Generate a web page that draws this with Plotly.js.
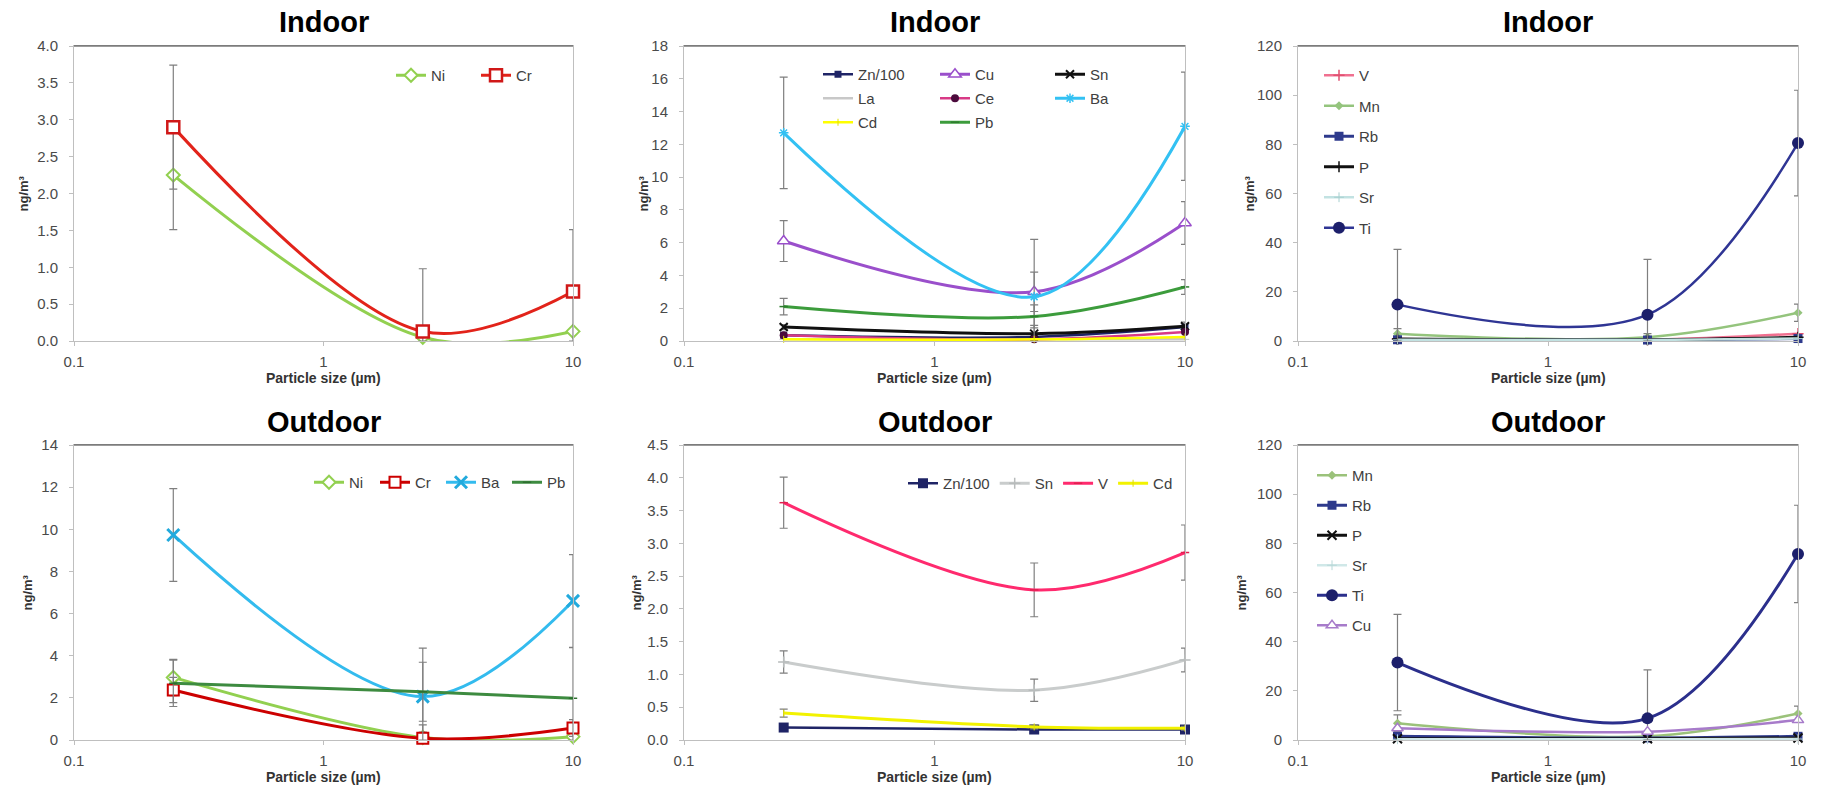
<!DOCTYPE html>
<html>
<head>
<meta charset="utf-8">
<script src="https://cdn.plot.ly/plotly-3.0.1.min.js"></script>
<style>
html,body{margin:0;padding:0;background:#ffffff;}
#chart{width:1829px;height:788px;}
</style>
</head>
<body>
<div id="chart"></div>
<script>
// ---------------- DATA ----------------
const sizes = [0.25, 2.5, 10];              // particle size (µm)
const xTickVals = [0.1, 1, 10];
const xTickText = ['0.1', '1', '10'];
const panelTitles = ['Indoor', 'Indoor', 'Indoor', 'Outdoor', 'Outdoor', 'Outdoor'];
const xAxisTitle = 'Particle size (µm)';
const yAxisTitle = 'ng/m³';
const yRanges = [[0, 4], [0, 18], [0, 120], [0, 14], [0, 4.5], [0, 120]];
const yDticks = [0.5, 2, 20, 2, 0.5, 20];
const yFormats = ['.1f', 'd', 'd', 'd', '.1f', 'd'];

// Panel 1 – Indoor
const in1Ni = [2.25, 0.05, 0.13];
const in1NiErr = [0.74, 0, 0];
const in1Cr = [2.90, 0.13, 0.67];
const in1CrErr = [0.84, 0.85, 0.84];

// Panel 2 – Indoor
const in2Zn100 = [0.35, 0.25, 0.85];
const in2Cu = [6.1, 3.0, 7.2];
const in2CuErr = [1.25, 1.2, 1.3];
const in2Sn = [0.85, 0.45, 0.9];
const in2SnErr = [0.15, 0.5, 0.25];
const in2La = [0.1, 0.1, 0.1];
const in2Ce = [0.35, 0.1, 0.55];
const in2Ba = [12.7, 2.7, 13.1];
const in2BaErr = [3.4, 3.5, 3.3];
const in2Cd = [0.1, 0.1, 0.25];
const in2Pb = [2.1, 1.5, 3.3];
const in2PbErr = [0.5, 0.7, 0.45];

// Panel 3 – Indoor
const in3V = [0.8, 0.5, 3.0];
const in3Mn = [3.0, 1.5, 11.5];
const in3MnErr = [2.0, 1.5, 3.5];
const in3Rb = [0.5, 0.4, 1.0];
const in3P = [0.8, 0.5, 1.5];
const in3Sr = [0.5, 0.4, 1.0];
const in3Ti = [14.8, 10.7, 80.5];
const in3TiErr = [22.5, 22.5, 21.5];

// Panel 4 – Outdoor
const out1Ni = [2.97, 0.12, 0.16];
const out1NiErr = [0.86, 0.6, 0.3];
const out1Cr = [2.37, 0.08, 0.57];
const out1CrErr = [0.6, 0.3, 0.4];
const out1Ba = [9.73, 2.06, 6.6];
const out1BaErr = [2.2, 2.3, 2.2];
const out1Pb = [2.69, 2.29, 1.98];
const out1PbErr = [1.1, 1.4, 2.4];

// Panel 5 – Outdoor
const out2Zn100 = [0.19, 0.16, 0.16];
const out2Sn = [1.19, 0.76, 1.22];
const out2SnErr = [0.17, 0.17, 0.18];
const out2V = [3.62, 2.29, 2.86];
const out2VErr = [0.39, 0.41, 0.42];
const out2Cd = [0.41, 0.2, 0.18];
const out2CdErr = [0.06, 0.03, 0.03];

// Panel 6 – Outdoor
const out3Mn = [6.8, 1.5, 10.8];
const out3MnErr = [3.4, 1.0, 3.0];
const out3Rb = [1.5, 0.8, 1.5];
const out3P = [0.5, 0.5, 0.8];
const out3Sr = [0.3, 0.3, 0.4];
const out3Ti = [31.5, 8.8, 75.7];
const out3TiErr = [19.6, 19.7, 19.8];
const out3Cu = [4.8, 3.4, 8.1];

// ---------------- LAYOUT HELPERS ----------------
const W = 1829, H = 788;
const FONT = 'Liberation Sans, Arial, Helvetica, sans-serif';
const colsPx = [[74, 573], [684, 1185], [1298, 1798]];
const rowsPx = [[46, 341], [445, 740]];
const fx = v => v / W;
const fy = v => 1 - v / H;

// series specs (styles only; values come from arrays above)
const series = [
  {p:0, name:'Ni', y:in1Ni, e:in1NiErr, lg:'legend', c:'#92D050', w:3, m:{symbol:'diamond', size:10, color:'#ffffff', line:{color:'#92D050', width:2}}},
  {p:0, name:'Cr', y:in1Cr, e:in1CrErr, lg:'legend', c:'#E2231A', w:3, m:{symbol:'square', size:12, color:'#ffffff', line:{color:'#D01818', width:2.5}}},

  {p:1, name:'Zn/100', y:in2Zn100, lg:'legend2', c:'#1F2466', w:2.5, m:{symbol:'square', size:7, color:'#1F2466'}},
  {p:1, name:'Cu', y:in2Cu, e:in2CuErr, lg:'legend3', c:'#9A4FCB', w:3, m:{symbol:'triangle-up', size:11, color:'#ffffff', line:{color:'#9A4FCB', width:1.5}}},
  {p:1, name:'Sn', y:in2Sn, e:in2SnErr, lg:'legend4', c:'#111111', w:3, m:{symbol:'x-thin', size:8, color:'#111111', line:{color:'#111111', width:2}}},
  {p:1, name:'La', y:in2La, lg:'legend2', c:'#C8C8C8', w:2.5, m:{symbol:'line-ew', size:6, color:'#C8C8C8', line:{color:'#C8C8C8', width:1}}},
  {p:1, name:'Ce', y:in2Ce, lg:'legend3', c:'#D83A86', w:2.5, m:{symbol:'circle', size:8, color:'#4B0A3C'}},
  {p:1, name:'Ba', y:in2Ba, e:in2BaErr, lg:'legend4', c:'#33C1F3', w:3, m:{symbol:'asterisk', size:8, color:'#33C1F3', line:{color:'#33C1F3', width:1.5}}},
  {p:1, name:'Cd', y:in2Cd, lg:'legend2', c:'#FFFF00', w:2.5, m:{symbol:'line-ns', size:5, color:'#E0E000', line:{color:'#E0E000', width:1}}},
  {p:1, name:'Pb', y:in2Pb, e:in2PbErr, lg:'legend3', c:'#3C9C3C', w:3, m:{symbol:'line-ew', size:6, color:'#2E7D2E', line:{color:'#2E7D2E', width:1.5}}},

  {p:2, name:'V', y:in3V, lg:'legend5', c:'#F07090', w:2.5, m:{symbol:'cross-thin', size:8, color:'#E05070', line:{color:'#E05070', width:1.5}}},
  {p:2, name:'Mn', y:in3Mn, e:in3MnErr, lg:'legend5', c:'#94C47D', w:2.5, m:{symbol:'diamond', size:7, color:'#94C47D'}},
  {p:2, name:'Rb', y:in3Rb, lg:'legend5', c:'#2E3A8C', w:3, m:{symbol:'square', size:9, color:'#2E3A8C'}},
  {p:2, name:'P', y:in3P, lg:'legend5', c:'#111111', w:3, m:{symbol:'cross-thin', size:8, color:'#111111', line:{color:'#111111', width:1.5}}},
  {p:2, name:'Sr', y:in3Sr, lg:'legend5', c:'#C2E2E2', w:2.5, m:{symbol:'cross-thin', size:7, color:'#A8D0D0', line:{color:'#A8D0D0', width:1}}},
  {p:2, name:'Ti', y:in3Ti, e:in3TiErr, lg:'legend5', c:'#2F3594', w:2.5, m:{symbol:'circle', size:12, color:'#1C1F6B'}},

  {p:3, name:'Ni', y:out1Ni, e:out1NiErr, lg:'legend6', c:'#92D050', w:3, m:{symbol:'diamond', size:10, color:'#ffffff', line:{color:'#92D050', width:2}}},
  {p:3, name:'Cr', y:out1Cr, e:out1CrErr, lg:'legend6', c:'#CC0000', w:3, m:{symbol:'square', size:11, color:'#ffffff', line:{color:'#CC0000', width:2}}},
  {p:3, name:'Ba', y:out1Ba, e:out1BaErr, lg:'legend6', c:'#33BBEE', w:3, m:{symbol:'x-thin', size:12, color:'#22AADD', line:{color:'#22AADD', width:3}}},
  {p:3, name:'Pb', y:out1Pb, e:out1PbErr, lg:'legend6', c:'#3D8B40', w:3, m:{symbol:'line-ew', size:6, color:'#2E6E30', line:{color:'#2E6E30', width:1.5}}},

  {p:4, name:'Zn/100', y:out2Zn100, lg:'legend7', c:'#1F2466', w:2.5, m:{symbol:'square', size:10, color:'#1F2466'}},
  {p:4, name:'Sn', y:out2Sn, e:out2SnErr, lg:'legend7', c:'#C9CCCC', w:3, m:{symbol:'cross-thin', size:8, color:'#B8BCBC', line:{color:'#B8BCBC', width:1.5}}},
  {p:4, name:'V', y:out2V, e:out2VErr, lg:'legend7', c:'#FF2A6E', w:3, m:{symbol:'line-ew', size:6, color:'#E0204F', line:{color:'#E0204F', width:1.5}}},
  {p:4, name:'Cd', y:out2Cd, e:out2CdErr, lg:'legend7', c:'#F2F200', w:3, m:{symbol:'line-ns', size:5, color:'#E0E000', line:{color:'#E0E000', width:1}}},

  {p:5, name:'Mn', y:out3Mn, e:out3MnErr, lg:'legend8', c:'#9BC27A', w:2.5, m:{symbol:'diamond', size:7, color:'#9BC27A'}},
  {p:5, name:'Rb', y:out3Rb, lg:'legend8', c:'#2E3A8C', w:3, m:{symbol:'square', size:9, color:'#2E3A8C'}},
  {p:5, name:'P', y:out3P, lg:'legend8', c:'#111111', w:3, m:{symbol:'x-thin', size:9, color:'#111111', line:{color:'#111111', width:2}}},
  {p:5, name:'Sr', y:out3Sr, lg:'legend8', c:'#D0E8E8', w:2.5, m:{symbol:'cross-thin', size:7, color:'#B8D8D8', line:{color:'#B8D8D8', width:1}}},
  {p:5, name:'Ti', y:out3Ti, e:out3TiErr, lg:'legend8', c:'#2B2F8C', w:3, m:{symbol:'circle', size:12, color:'#1C1F6B'}},
  {p:5, name:'Cu', y:out3Cu, lg:'legend8', c:'#A77BCA', w:2.5, m:{symbol:'triangle-up', size:10, color:'#ffffff', line:{color:'#A77BCA', width:1.5}}}
];

const verticalLegends = ['legend2', 'legend3', 'legend4', 'legend5', 'legend8'];

const traces = series.map((s, k) => {
  const t = {
    type: 'scatter', mode: 'lines+markers',
    x: sizes, y: s.y, name: s.name,
    xaxis: 'x' + (s.p ? s.p + 1 : ''), yaxis: 'y' + (s.p ? s.p + 1 : ''),
    line: {color: s.c, width: s.w, shape: 'spline', smoothing: 1},
    marker: s.m,
    legend: s.lg,
    cliponaxis: false,
    hoverinfo: 'skip'
  };
  if (verticalLegends.includes(s.lg)) t.legendgroup = 'g' + k;
  if (s.e) {
    t.error_y = {type: 'data', symmetric: false, array: s.e,
      arrayminus: s.e.map((v, i) => Math.min(v, s.y[i])),
      color: '#7F7F7F', thickness: 1.2, width: 4, visible: true};
  }
  return t;
});

const layout = {
  width: W, height: H,
  margin: {l: 0, r: 0, t: 0, b: 0},
  paper_bgcolor: '#ffffff', plot_bgcolor: '#ffffff',
  font: {family: FONT, size: 15, color: '#404040'},
  showlegend: true,
  annotations: [],
  shapes: []
};

for (let i = 0; i < 6; i++) {
  const col = i % 3, row = Math.floor(i / 3);
  const [x0, x1] = colsPx[col];
  const [y0, y1] = rowsPx[row];
  const sfx = i ? String(i + 1) : '';
  layout['xaxis' + sfx] = {
    domain: [fx(x0), fx(x1)], anchor: 'y' + sfx,
    type: 'log', range: [-1, 1],
    tickmode: 'array', tickvals: xTickVals, ticktext: xTickText,
    showgrid: false, zeroline: false,
    showline: true, linecolor: '#BFBFBF', linewidth: 1, mirror: true,
    ticks: 'outside', ticklen: 4, tickcolor: '#BFBFBF',
    tickfont: {family: FONT, size: 15, color: '#4A4A4A'},
    ticklabelstandoff: 3,
    fixedrange: true
  };
  layout['yaxis' + sfx] = {
    domain: [fy(y1), fy(y0)], anchor: 'x' + sfx,
    range: yRanges[i], dtick: yDticks[i], tick0: 0, tickformat: yFormats[i],
    showgrid: false, zeroline: false,
    showline: true, linecolor: '#BFBFBF', linewidth: 1, mirror: true,
    ticks: 'outside', ticklen: 4, tickcolor: '#BFBFBF',
    tickfont: {family: FONT, size: 15, color: '#4A4A4A'},
    ticklabelstandoff: 8,
    fixedrange: true
  };
  // dark top frame line
  layout.shapes.push({type: 'line', xref: 'paper', yref: 'paper',
    x0: fx(x0), x1: fx(x1), y0: fy(y0), y1: fy(y0),
    line: {color: '#3A3A3A', width: 1.2}});
  // panel title
  layout.annotations.push({text: '<b>' + panelTitles[i] + '</b>', xref: 'paper', yref: 'paper',
    x: fx((x0 + x1) / 2), y: fy(row ? 422 : 22), xanchor: 'center', yanchor: 'middle',
    showarrow: false, font: {family: FONT, size: 29, color: '#000000'}});
  // x-axis title
  layout.annotations.push({text: '<b>' + xAxisTitle + '</b>', xref: 'paper', yref: 'paper',
    x: fx((x0 + x1) / 2), y: fy(y1 + 37), xanchor: 'center', yanchor: 'middle',
    showarrow: false, font: {family: FONT, size: 14, color: '#333333'}});
}
// y-axis titles
const yTitleX = [23, 643, 1249, 27, 636, 1241];
for (let i = 0; i < 6; i++) {
  const row = Math.floor(i / 3);
  const [y0, y1] = rowsPx[row];
  layout.annotations.push({text: '<b>' + yAxisTitle + '</b>', xref: 'paper', yref: 'paper',
    x: fx(yTitleX[i]), y: fy((y0 + y1) / 2), xanchor: 'center', yanchor: 'middle',
    textangle: -90, showarrow: false, font: {family: FONT, size: 13, color: '#333333'}});
}

const legendFont = {family: FONT, size: 15, color: '#404040'};
function mkLegend(xPx, yTopPx, orientation, gap, entrywidth) {
  const L = {x: fx(xPx), y: fy(yTopPx), xanchor: 'left', yanchor: 'top',
    orientation: orientation, bgcolor: 'rgba(0,0,0,0)', borderwidth: 0,
    font: legendFont, itemwidth: 30, itemclick: false, itemdoubleclick: false,
    tracegroupgap: gap};
  if (entrywidth) { L.entrywidth = entrywidth; L.entrywidthmode = 'pixels'; }
  return L;
}
layout.legend  = mkLegend(391, 59, 'h', 0, 40);
layout.legend2 = mkLegend(818, 58, 'v', 1.5);
layout.legend3 = mkLegend(935, 58, 'v', 1.5);
layout.legend4 = mkLegend(1050, 58, 'v', 1.5);
layout.legend5 = mkLegend(1319, 59, 'v', 8);
layout.legend6 = mkLegend(309, 466, 'h', 0, 21);
layout.legend7 = mkLegend(903, 467, 'h', 0);
layout.legend8 = mkLegend(1312, 459, 'v', 7.5);

Plotly.newPlot('chart', traces, layout, {staticPlot: true, displayModeBar: false});
</script>
</body>
</html>
